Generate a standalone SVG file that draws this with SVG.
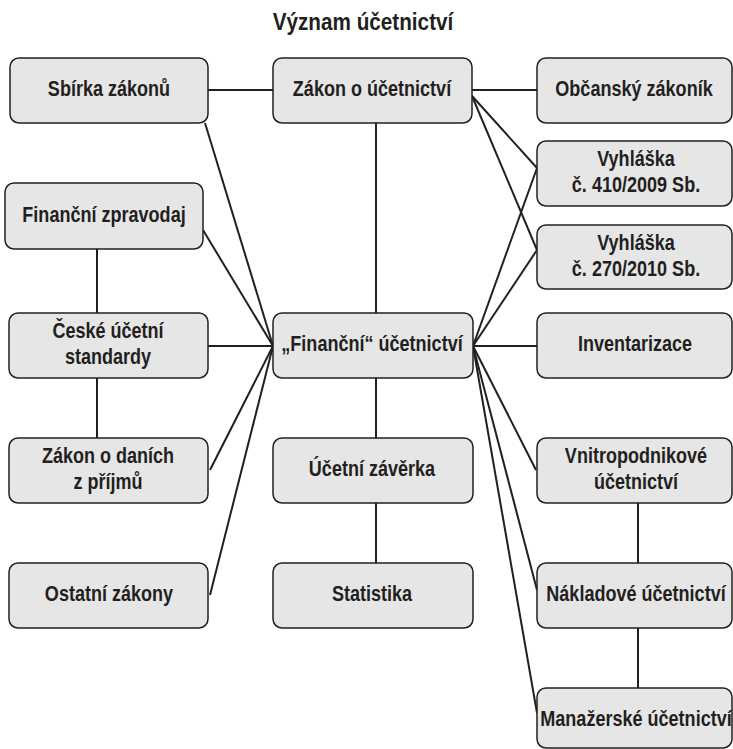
<svg xmlns="http://www.w3.org/2000/svg" width="733" height="749" viewBox="0 0 733 749">
<style>
.box{fill:#e6e6e6;stroke:#231f20;stroke-width:1.5}
.t{font-family:"Liberation Sans",Arial,sans-serif;font-weight:bold;font-size:22px;fill:#231f20;text-anchor:middle}
.title{font-size:23px}
#connectors line{stroke:#231f20;stroke-width:2;fill:none}
</style>
<rect width="733" height="749" fill="#ffffff"/>
<text class="t title" transform="translate(363,30) scale(0.9,1)">Význam účetnictví</text>
<g id="connectors">
<line x1="208" y1="90" x2="273" y2="90"/>
<line x1="472" y1="90" x2="537" y2="90"/>
<line x1="205" y1="123" x2="273" y2="346"/>
<line x1="203" y1="230" x2="273" y2="346"/>
<line x1="208" y1="346" x2="273" y2="346"/>
<line x1="210" y1="470" x2="273" y2="346"/>
<line x1="210" y1="595" x2="273" y2="346"/>
<line x1="97" y1="249" x2="97" y2="313"/>
<line x1="97" y1="378" x2="97" y2="438"/>
<line x1="376" y1="123" x2="376" y2="313"/>
<line x1="376" y1="378" x2="376" y2="438"/>
<line x1="376" y1="503" x2="376" y2="563"/>
<line x1="472" y1="96" x2="537" y2="168"/>
<line x1="472" y1="96" x2="537" y2="250"/>
<line x1="473" y1="346" x2="537" y2="168"/>
<line x1="473" y1="346" x2="537" y2="250"/>
<line x1="473" y1="346" x2="537" y2="346"/>
<line x1="473" y1="346" x2="536" y2="470"/>
<line x1="473" y1="346" x2="537" y2="590"/>
<line x1="473" y1="346" x2="537" y2="713"/>
<line x1="638" y1="503" x2="638" y2="563"/>
<line x1="638" y1="628" x2="638" y2="688"/>
</g>
<g id="sbirka"><rect class="box" x="10" y="58" width="198" height="65" rx="9"/><text class="t" transform="translate(109,96) scale(0.82,1)">Sbírka zákonů</text></g>
<g id="zpravodaj"><rect class="box" x="5" y="183" width="198" height="66" rx="9"/><text class="t" transform="translate(104,222) scale(0.82,1)">Finanční zpravodaj</text></g>
<g id="ceske"><rect class="box" x="9" y="313" width="199" height="65" rx="9"/><text class="t" transform="translate(108,338) scale(0.82,1)">České účetní</text><text class="t" transform="translate(108,364) scale(0.82,1)">standardy</text></g>
<g id="dane"><rect class="box" x="9" y="438" width="199" height="65" rx="9"/><text class="t" transform="translate(108,463) scale(0.82,1)">Zákon o daních</text><text class="t" transform="translate(108,489) scale(0.82,1)">z příjmů</text></g>
<g id="ostatni"><rect class="box" x="9" y="563" width="199" height="65" rx="9"/><text class="t" transform="translate(109,601) scale(0.82,1)">Ostatní zákony</text></g>
<g id="zakon"><rect class="box" x="273" y="58" width="199" height="65" rx="9"/><text class="t" transform="translate(372,96) scale(0.82,1)">Zákon o účetnictví</text></g>
<g id="financni"><rect class="box" x="273" y="313" width="200" height="65" rx="9"/><text class="t" transform="translate(372,351) scale(0.82,1)">„Finanční“ účetnictví</text></g>
<g id="zaverka"><rect class="box" x="273" y="438" width="200" height="65" rx="9"/><text class="t" transform="translate(372,476) scale(0.82,1)">Účetní závěrka</text></g>
<g id="statistika"><rect class="box" x="273" y="563" width="200" height="65" rx="9"/><text class="t" transform="translate(372,601) scale(0.82,1)">Statistika</text></g>
<g id="obcansky"><rect class="box" x="537" y="58" width="195" height="65" rx="9"/><text class="t" transform="translate(634,96) scale(0.82,1)">Občanský zákoník</text></g>
<g id="vyhlaska410"><rect class="box" x="537" y="141" width="195" height="65" rx="9"/><text class="t" transform="translate(636,166) scale(0.82,1)">Vyhláška</text><text class="t" transform="translate(636,192) scale(0.82,1)">č. 410/2009 Sb.</text></g>
<g id="vyhlaska270"><rect class="box" x="537" y="225" width="195" height="64" rx="9"/><text class="t" transform="translate(636,250) scale(0.82,1)">Vyhláška</text><text class="t" transform="translate(636,276) scale(0.82,1)">č. 270/2010 Sb.</text></g>
<g id="inventarizace"><rect class="box" x="537" y="313" width="195" height="65" rx="9"/><text class="t" transform="translate(635,351) scale(0.82,1)">Inventarizace</text></g>
<g id="vnitropodnikove"><rect class="box" x="537" y="438" width="195" height="65" rx="9"/><text class="t" transform="translate(636,463) scale(0.82,1)">Vnitropodnikové</text><text class="t" transform="translate(636,489) scale(0.82,1)">účetnictví</text></g>
<g id="nakladove"><rect class="box" x="537" y="563" width="195" height="65" rx="9"/><text class="t" transform="translate(636,601) scale(0.82,1)">Nákladové účetnictví</text></g>
<g id="manazerske"><rect class="box" x="537" y="688" width="195" height="60" rx="9"/><text class="t" transform="translate(636,726) scale(0.82,1)">Manažerské účetnictví</text></g>
</svg>
